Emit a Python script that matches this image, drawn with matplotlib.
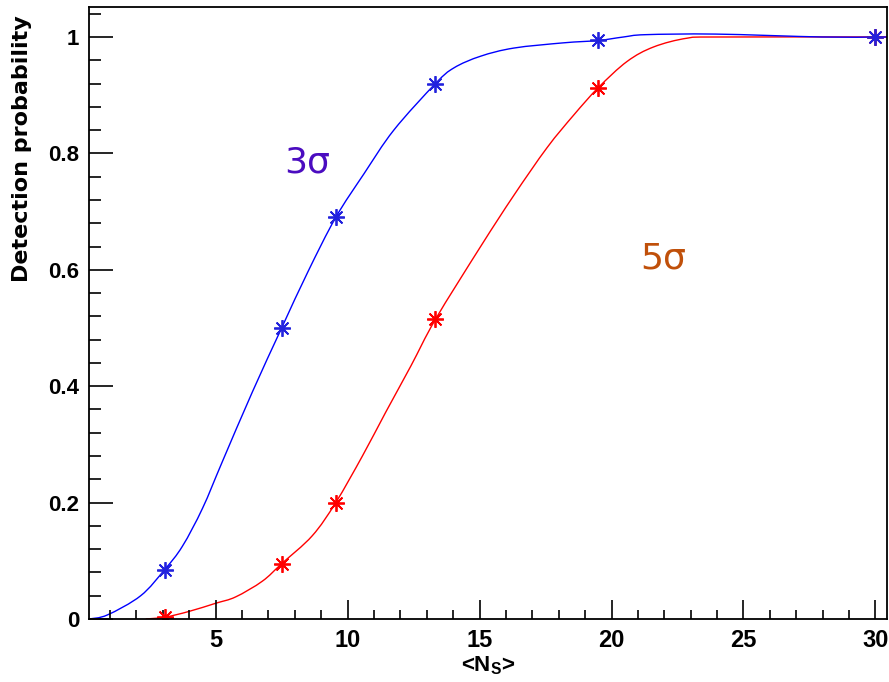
import numpy as np
import matplotlib
matplotlib.use("Agg")
import matplotlib.pyplot as plt
from matplotlib.path import Path
from matplotlib.patches import PathPatch
from matplotlib.ticker import MultipleLocator

# Measured points (stars)
ns_points = [3.07, 7.5, 9.55, 13.33, 19.5, 30.0]
prob_3sigma = [0.085, 0.50, 0.69, 0.92, 0.994, 1.0]
prob_5sigma = [0.003, 0.095, 0.20, 0.515, 0.913, 1.0]

# Smooth curves
curve_x_3sigma = [0.2, 0.9, 2.16, 3.07, 3.74, 4.5, 5.25, 6.39, 7.5, 8.5, 9.55,
                  10.62, 11.75, 13.33, 14.03, 15.04, 16.3, 18.19, 19.5, 20.45,
                  21.29, 23.94, 27.97, 30.0, 30.44]
curve_y_3sigma = [0.0, 0.007, 0.04, 0.085, 0.125, 0.19, 0.27, 0.39, 0.50, 0.597, 0.69,
                  0.765, 0.84, 0.92, 0.947, 0.967, 0.981, 0.99, 0.994, 1.0,
                  1.004, 1.005, 1.0, 1.0, 1.0]
curve_x_5sigma = [2.35, 3.07, 3.99, 5.0, 5.76, 6.77, 7.5, 8.66, 9.55, 10.56, 11.44,
                  12.4, 13.33, 15.04, 16.3, 17.56, 18.57, 19.5, 20.59, 21.6,
                  22.87, 24.1, 30.44]
curve_y_5sigma = [0.0, 0.003, 0.013, 0.027, 0.038, 0.065, 0.095, 0.143, 0.20, 0.28, 0.355,
                  0.435, 0.515, 0.64, 0.728, 0.81, 0.866, 0.913, 0.958, 0.983,
                  0.998, 1.0, 1.0]


def smooth_path(xs, ys):
    # Catmull-Rom through the read points, drawn as cubic bezier segments
    pts = np.column_stack([xs, ys]).astype(float)
    verts = [pts[0]]
    codes = [Path.MOVETO]
    n = len(pts)
    for i in range(n - 1):
        p0 = pts[i - 1] if i > 0 else pts[i]
        p1, p2 = pts[i], pts[i + 1]
        p3 = pts[i + 2] if i + 2 < n else pts[i + 1]
        c1 = p1 + (p2 - p0) / 6.0
        c2 = p2 - (p3 - p1) / 6.0
        verts += [c1, c2, p2]
        codes += [Path.CURVE4] * 3
    return Path(verts, codes)


plt.rcParams['font.family'] = ['Liberation Sans', 'DejaVu Sans']
plt.rcParams['mathtext.fontset'] = 'custom'
plt.rcParams['mathtext.rm'] = 'Liberation Sans:bold'
plt.rcParams['mathtext.bf'] = 'Liberation Sans:bold'

fig = plt.figure(figsize=(8.89, 6.82), dpi=100)
ax = fig.add_axes([0.1001, 0.0924, 0.8977, 0.8973])

star = (8, 2, 0)
ax.add_patch(PathPatch(smooth_path(curve_x_5sigma, curve_y_5sigma), fill=False,
                       edgecolor='#ff0000', lw=1.0))
ax.plot(ns_points, prob_5sigma, ls='none', marker=star, ms=12, mew=1.3, color='#ff0000')
ax.add_patch(PathPatch(smooth_path(curve_x_3sigma, curve_y_3sigma), fill=False,
                       edgecolor='#0000ff', lw=1.0))
ax.plot(ns_points, prob_3sigma, ls='none', marker=star, ms=12, mew=1.3, color='#2222dd')

ax.text(8.47, 0.785, '3σ', color='#4b0cc0', fontsize=26, family='DejaVu Sans',
        va='center', ha='center')
ax.text(21.95, 0.62, '5σ', color='#c0500a', fontsize=26, family='DejaVu Sans',
        va='center', ha='center')

ax.set_xlim(0.2, 30.44)
ax.set_ylim(0, 1.0515)
ax.xaxis.set_major_locator(MultipleLocator(5))
ax.xaxis.set_minor_locator(MultipleLocator(1))
ax.yaxis.set_minor_locator(MultipleLocator(0.04))
ax.set_yticks([0, 0.2, 0.4, 0.6, 0.8, 1.0])
ax.set_yticklabels(['0', '0.2', '0.4', '0.6', '0.8', '1'])

ax.tick_params(axis='both', which='both', direction='in', top=False, right=False, width=1.2)
ax.tick_params(axis='y', which='major', length=17, pad=7, labelsize=16)
ax.tick_params(axis='y', which='minor', length=8.5)
ax.tick_params(axis='x', which='major', length=13.5, pad=7, labelsize=17)
ax.tick_params(axis='x', which='minor', length=6.5)
for lab in ax.get_xticklabels() + ax.get_yticklabels():
    lab.set_fontweight('bold')
for sp in ax.spines.values():
    sp.set_linewidth(1.3)

ax.set_ylabel('Detection probability', fontsize=16, fontweight='bold', family='DejaVu Sans')
ax.yaxis.set_label_coords(-0.071, 0.768)
ax.set_xlabel(r'<N$_\mathrm{S}$>', fontsize=16, fontweight='bold')
ax.xaxis.set_label_coords(0.5, -0.058)

fig.savefig('out.png', dpi=100)
